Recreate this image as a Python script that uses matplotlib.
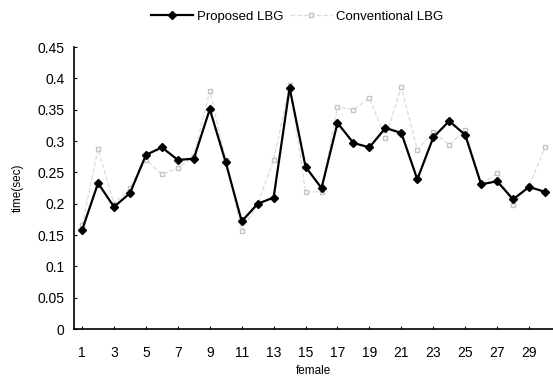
import numpy as np
import matplotlib
matplotlib.use('Agg')
import matplotlib.pyplot as plt
import matplotlib as mpl
mpl.rcParams['font.family'] = ['Liberation Sans', 'DejaVu Sans']

#
# Data
#
subjects = list(range(1, 31))
proposed = [0.158, 0.233, 0.195, 0.217, 0.278, 0.290, 0.270, 0.272, 0.351, 0.266,
            0.172, 0.200, 0.210, 0.385, 0.259, 0.225, 0.329, 0.297, 0.290, 0.321,
            0.313, 0.239, 0.306, 0.332, 0.310, 0.231, 0.236, 0.207, 0.227, 0.219]
conventional = [0.166, 0.287, 0.200, 0.225, 0.270, 0.247, 0.257, 0.276, 0.380, 0.270,
                0.157, 0.200, 0.270, 0.390, 0.219, 0.219, 0.355, 0.350, 0.369, 0.305,
                0.386, 0.286, 0.315, 0.294, 0.318, 0.231, 0.249, 0.198, 0.228, 0.290]
yticks = [0, 0.05, 0.1, 0.15, 0.2, 0.25, 0.3, 0.35, 0.4, 0.45]
ytick_labels = ['0', '0.05', '0.1', '0.15', '0.2', '0.25', '0.3', '0.35', '0.4', '0.45']
xticks = list(range(1, 30, 2))

fig = plt.figure(figsize=(5.53, 3.77), dpi=100)
ax = fig.add_axes([0.134, 0.127, 0.866, 0.748])

ax.plot(subjects, conventional, '--', color='#dcdcdc', lw=0.9, marker='s',
        ms=3.5, mfc='white', mec='#c4c4c4', label='Conventional LBG', zorder=2)
ax.plot(subjects, proposed, '-', color='black', lw=1.6, marker='D',
        ms=4, mfc='black', mec='black', label='Proposed LBG', zorder=3)

ax.set_xlim(0.5, 30.5)
ax.set_ylim(0, 0.45)
ax.set_yticks(yticks)
ax.set_yticklabels(ytick_labels)
ax.set_xticks(xticks)
ax.tick_params(axis='both', labelsize=10, length=2, direction='in', width=0.8)
ax.tick_params(axis='x', pad=12)
ax.tick_params(axis='y', pad=7)
ax.set_xlabel('female', fontsize=8.5, labelpad=4)
ax.set_ylabel('time(sec)', fontsize=8.5, labelpad=10)

for side in ['top', 'right']:
    ax.spines[side].set_visible(False)
ax.spines['left'].set_linewidth(1.2)
ax.spines['bottom'].set_linewidth(1.2)

handles, labels = ax.get_legend_handles_labels()
fig.legend(handles[::-1], labels[::-1], loc='center', bbox_to_anchor=(0.537, 0.955),
           ncol=2, frameon=False, fontsize=9.5, handlelength=3.2,
           columnspacing=0.5, handletextpad=0.3)

fig.savefig('out.png', dpi=100)
